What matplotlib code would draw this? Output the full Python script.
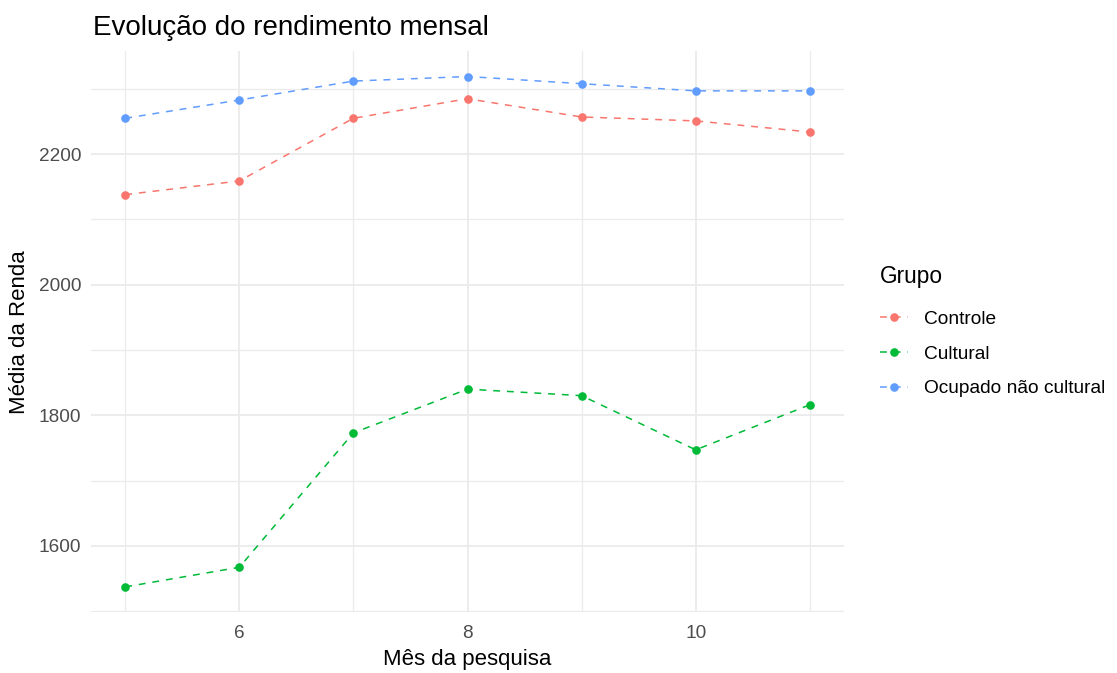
import matplotlib
matplotlib.use("Agg")
import matplotlib.pyplot as plt
from matplotlib.ticker import FixedLocator
import numpy as np

plt.rcParams['font.family'] = ['Liberation Sans', 'DejaVu Sans']

months = [5, 6, 7, 8, 9, 10, 11]
groups = ["Controle", "Cultural", "Ocupado não cultural"]
controle = [2138, 2159, 2255, 2285, 2257, 2251, 2234]
cultural = [1537, 1567, 1773, 1840, 1830, 1747, 1816]
ocupado = [2255, 2283, 2312, 2319, 2308, 2297, 2297]
series = [controle, cultural, ocupado]
colors = ["#F8766D", "#00BA38", "#619CFF"]

x_major = [6, 8, 10]
x_minor = [5, 7, 9, 11]
y_major = [1600, 1800, 2000, 2200]
y_minor = [1500, 1700, 1900, 2100, 2300]

W, H = 1117, 673
fig = plt.figure(figsize=(W / 100, H / 100), dpi=100)
fig.patch.set_facecolor("white")

left, right, top, bottom = 91, 844, 51, 612.4
ax = fig.add_axes([left / W, 1 - bottom / H, (right - left) / W, (bottom - top) / H])
ax.set_facecolor("white")

handles = []
for name, vals, c in zip(groups, series, colors):
    ln, = ax.plot(months, vals, color=c, linewidth=1.1, linestyle=(0, (4.5, 4.5)),
                  marker="o", markersize=6.2, markeredgewidth=0, label=name, zorder=3)
    handles.append(ln)

allv = np.concatenate([np.array(s) for s in series])
rng = allv.max() - allv.min()
ax.set_ylim(allv.min() - 0.05 * rng, allv.max() + 0.05 * rng)
xr = max(months) - min(months)
ax.set_xlim(min(months) - 0.05 * xr, max(months) + 0.05 * xr)

ax.xaxis.set_major_locator(FixedLocator(x_major))
ax.xaxis.set_minor_locator(FixedLocator(x_minor))
ax.yaxis.set_major_locator(FixedLocator(y_major))
ax.yaxis.set_minor_locator(FixedLocator(y_minor))
ax.set_xticklabels([str(v) for v in x_major])
ax.set_yticklabels([str(v) for v in y_major])

ax.grid(which="major", color="#EBEBEB", linewidth=1.3)
ax.grid(which="minor", color="#EBEBEB", linewidth=0.9)
ax.set_axisbelow(True)
for s in ax.spines.values():
    s.set_visible(False)
ax.tick_params(which="both", length=0)
ax.tick_params(axis="x", labelsize=13.7, labelcolor="#4D4D4D", pad=9)
ax.tick_params(axis="y", labelsize=13.7, labelcolor="#4D4D4D", pad=7)

ax.set_xlabel("Mês da pesquisa", fontsize=16, color="black", labelpad=5)
ax.set_ylabel("Média da Renda", fontsize=16, color="black", labelpad=6)

fig.text(93 / W, 1 - 35 / H, "Evolução do rendimento mensal", fontsize=20,
         color="black", ha="left", va="baseline")

leg = ax.legend(handles=handles, labels=groups, title="Grupo",
                loc="upper left", bbox_to_anchor=(865 / W, 1 - 250 / H),
                bbox_transform=fig.transFigure, frameon=False,
                fontsize=13.8, title_fontsize=16.3, handlelength=1.45,
                handletextpad=0.85, labelspacing=0.9, borderpad=0.3)
leg._legend_box.align = "left"
leg._legend_box.sep = 16

fig.savefig("out.png", dpi=100, facecolor="white")
